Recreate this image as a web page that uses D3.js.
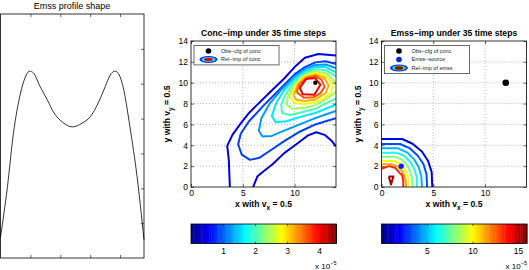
<!DOCTYPE html>
<html>
<head>
<meta charset="utf-8">
<script src="https://cdn.jsdelivr.net/npm/d3@7"></script>
<style>
  body { margin: 0; background: #fff; }
  text { font-family: "Liberation Sans", Arial, sans-serif; }
</style>
</head>
<body>
<div id="chart"></div>
<script>
// Emss profile shape (curve)
const profileX = [0, 0.23, 0.43, 0.67, 0.83, 0.97, 1.1, 1.33, 1.57, 1.77, 2.07, 2.4, 2.73, 3.0, 3.27, 3.5, 3.67, 3.83, 3.93, 4.1, 4.33, 4.57, 4.8];
const profileY = [0.6, 2.03, 3.56, 4.73, 5.19, 5.36, 5.31, 4.91, 4.53, 4.19, 3.9, 3.76, 3.87, 4.05, 4.45, 4.91, 5.25, 5.36, 5.31, 4.91, 3.76, 2.32, 0.52];

// Conc-imp contours, levels in units of 1e-5
const concMax = 4.54;
const concLevels = [0.45, 0.45, 0.85, 1.25, 1.6, 2.0, 2.4, 2.8, 3.2, 3.6, 4.05];
const concLines = [
  [[3.75,0],[3.65,2.6],[3.5,3.95],[4.0,5.0],[4.8,6.1],[5.6,7.1],[6.4,7.9],[7.7,9.15],[9.0,10.4],[10.0,11.5],[11.0,12.4],[12.3,12.75],[14,12.6]],
  [[6.0,0],[6.4,1.0],[6.8,1.35],[7.9,2.2],[9.0,3.25],[10.3,4.2],[11.3,4.95],[12.1,5.25],[12.9,5.0],[13.6,4.4],[14,3.9]],
  [[14,11.8],[13,12.05],[12,11.95],[11,11.5],[10,10.8],[8.5,9.3],[7,7.8],[5.6,6.3],[4.8,5.1],[4.55,4.1],[4.9,3.1],[5.7,2.6],[6.6,2.8],[7.8,3.6],[9,4.4],[10.5,5.3],[12,6.0],[13,6.3],[14,6.6]],
  [[14,11.4],[13,11.75],[12,11.7],[11,11.3],[10,10.6],[8.8,9.4],[7.6,8.0],[6.8,6.6],[6.55,5.4],[6.9,4.85],[7.8,4.9],[9,5.4],[10.5,6.0],[12,6.6],[13,6.95],[14,7.3]],
  [[14,11.0],[13,11.5],[12,11.5],[11,11.1],[10,10.35],[9,9.3],[8.2,8.0],[7.8,6.8],[8.2,6.2],[9.2,6.3],[10.5,6.7],[12,7.1],[13,7.5],[14,7.9]],
  [[14,10.6],[13,11.2],[12,11.3],[11,10.9],[10,10.1],[9.2,9.0],[8.7,7.9],[8.8,7.1],[9.6,6.9],[10.8,7.2],[12,7.5],[13,8.0],[14,8.5]],
  [[14,9.9],[13.2,10.85],[12,11.1],[11,10.75],[10.1,9.9],[9.4,8.8],[9.2,7.9],[9.8,7.5],[11,7.6],[12,7.85],[13,8.4],[14,9.1]],
  [[9.6,8.6],[10.0,9.7],[10.8,10.6],[12,10.95],[13.1,10.6],[13.7,9.8],[13.5,9.0],[12.8,8.5],[12,8.15],[11,7.95],[10.0,8.05],[9.6,8.6]],
  [[9.9,8.8],[10.3,9.8],[11,10.5],[12,10.8],[12.9,10.45],[13.3,9.7],[13.0,9.0],[12,8.4],[11,8.25],[10.2,8.35],[9.9,8.8]],
  [[10.2,9.1],[10.5,9.9],[11.2,10.45],[12,10.65],[12.6,10.3],[12.9,9.6],[12.5,9.0],[11.8,8.6],[10.9,8.55],[10.2,9.1]],
  [[10.5,9.5],[11.1,10.35],[12,10.45],[12.5,9.8],[11.9,8.85],[10.8,8.9],[10.5,9.5]]
];
const concTicks = [1, 2, 3, 4];

// Emss-imp contours, levels in units of 1e-5
const emssMax = 16;
const emssLevels = [1.6, 3.2, 4.8, 6.4, 8.0, 9.8, 11.5, 13.4, 15.4];
const emssLines = [
  [[0,4.6],[2.0,4.6],[3.0,4.15],[3.9,3.4],[4.5,2.5],[4.85,1.4],[4.9,0]],
  [[0,4.12],[1.8,4.12],[2.75,3.7],[3.5,3.0],[4.05,2.2],[4.35,1.2],[4.4,0]],
  [[0,3.71],[1.6,3.71],[2.5,3.3],[3.15,2.65],[3.6,1.9],[3.85,1.0],[3.9,0]],
  [[0,3.29],[1.45,3.29],[2.25,2.95],[2.8,2.35],[3.2,1.65],[3.4,0.9],[3.42,0]],
  [[0,2.91],[1.3,2.91],[2.0,2.6],[2.5,2.05],[2.8,1.4],[2.97,0.75],[3.0,0]],
  [[0,2.49],[1.15,2.49],[1.8,2.25],[2.2,1.75],[2.5,1.15],[2.62,0.6],[2.65,0]],
  [[0,2.17],[1.0,2.17],[1.6,1.95],[2.0,1.5],[2.25,1.0],[2.35,0.5],[2.37,0]],
  [[0,1.75],[0.7,2.0],[1.3,1.85],[1.7,1.4],[2.0,1.1],[2.1,0.6],[2.1,0]],
  [[0.7,1.0],[1.15,1.0],[0.92,0.25],[0.7,1.0]]
];
const emssTicks = [5, 10, 15];

const obsPoint = [12, 10];
const sourcePoint = [1.9, 2];
const xTicks = [0, 5, 10];
const yTicks = [0, 2, 4, 6, 8, 10, 12, 14];

const width = 529;
const height = 270;

const svg = d3.select("#chart")
    .append("svg")
    .attr("width", width)
    .attr("height", height);

// matlab jet colormap
function jet(t) {
  const c = v => Math.round(255 * Math.max(0, Math.min(1, v)));
  return `rgb(${c(1.5 - Math.abs(4 * t - 3))},${c(1.5 - Math.abs(4 * t - 2))},${c(1.5 - Math.abs(4 * t - 1))})`;
}

function styleAxis(a) {
  a.select(".domain").remove();
  a.attr("font-size", 8.5).attr("font-family", "Liberation Sans, Arial, sans-serif");
  a.selectAll("line").attr("stroke", "#000").attr("stroke-width", 0.6);
  a.selectAll("text").attr("fill", "#000");
}

// ---------- left panel: profile ----------
const px = d3.scaleLinear().domain([0, 4.8]).range([0.5, 144]);
const py = d3.scaleLinear().domain([0, 7]).range([258, 14]);

svg.append("g").attr("transform", "translate(0,258)")
    .call(d3.axisBottom(px).tickValues([1, 2, 3, 4]).tickSize(-3).tickFormat(""))
    .call(styleAxis);
svg.append("g").attr("transform", "translate(0,14)")
    .call(d3.axisTop(px).tickValues([1, 2, 3, 4]).tickSize(-3).tickFormat(""))
    .call(styleAxis);
svg.append("g").attr("transform", "translate(144,0)")
    .call(d3.axisRight(py).tickValues([1, 2, 3, 4, 5, 6]).tickSize(-3).tickFormat(""))
    .call(styleAxis);

svg.append("path")
    .datum(d3.zip(profileX, profileY))
    .attr("fill", "none")
    .attr("stroke", "#000")
    .attr("stroke-width", 0.8)
    .attr("d", d3.line().x(d => px(d[0])).y(d => py(d[1])).curve(d3.curveMonotoneX));

svg.append("rect")
    .attr("x", 0.5).attr("y", 14).attr("width", 143.5).attr("height", 244)
    .attr("fill", "none").attr("stroke", "#000").attr("stroke-width", 0.8);

svg.append("text")
    .attr("x", 72).attr("y", 9)
    .attr("text-anchor", "middle")
    .attr("font-size", 9)
    .text("Emss profile shape");

// ---------- contour panels ----------
function contourPanel(left, id, title, levels, lines, cmax, cbTicks, legendRows) {
  const right = left + 145;
  const x = d3.scaleLinear().domain([0, 14]).range([left, right]);
  const y = d3.scaleLinear().domain([0, 14]).range([187, 41]);
  const g = svg.append("g");

  g.append("clipPath").attr("id", id)
    .append("rect").attr("x", left).attr("y", 41).attr("width", 145).attr("height", 146);

  // grid
  g.selectAll("line.gx").data([5, 10]).join("line")
      .attr("x1", d => x(d)).attr("x2", d => x(d))
      .attr("y1", y(0)).attr("y2", y(14))
      .attr("stroke", "#999").attr("stroke-width", 0.7).attr("stroke-dasharray", "1,2");
  g.selectAll("line.gy").data([2, 4, 6, 8, 10, 12]).join("line")
      .attr("x1", x(0)).attr("x2", x(14))
      .attr("y1", d => y(d)).attr("y2", d => y(d))
      .attr("stroke", "#999").attr("stroke-width", 0.7).attr("stroke-dasharray", "1,2");

  // contours
  const line = d3.line().x(d => x(d[0])).y(d => y(d[1]));
  g.append("g").attr("clip-path", `url(#${id})`)
    .selectAll("path").data(lines).join("path")
      .attr("fill", "none")
      .attr("stroke", (d, i) => jet(levels[i] / cmax))
      .attr("stroke-width", 2)
      .attr("stroke-linejoin", "round")
      .attr("d", line);

  // axes
  g.append("g").attr("transform", "translate(0,187)")
      .call(d3.axisBottom(x).tickValues(xTicks).tickSize(-3).tickPadding(3))
      .call(styleAxis);
  g.append("g").attr("transform", "translate(0,41)")
      .call(d3.axisTop(x).tickValues(xTicks).tickSize(-3).tickFormat(""))
      .call(styleAxis);
  g.append("g").attr("transform", `translate(${left},0)`)
      .call(d3.axisLeft(y).tickValues(yTicks).tickSize(-3).tickPadding(3))
      .call(styleAxis);
  g.append("g").attr("transform", `translate(${right},0)`)
      .call(d3.axisRight(y).tickValues(yTicks).tickSize(-3).tickFormat(""))
      .call(styleAxis);
  g.append("rect")
      .attr("x", left).attr("y", 41).attr("width", 145).attr("height", 146)
      .attr("fill", "none").attr("stroke", "#000").attr("stroke-width", 0.8);

  // title and labels
  g.append("text")
      .attr("x", (left + right) / 2).attr("y", 36)
      .attr("text-anchor", "middle").attr("font-size", 8.6).attr("font-weight", "bold")
      .text(title);
  const xl = g.append("text")
      .attr("x", (left + right) / 2).attr("y", 207)
      .attr("text-anchor", "middle").attr("font-size", 8.6).attr("font-weight", "bold");
  xl.append("tspan").text("x with v");
  xl.append("tspan").attr("dy", 2.5).attr("font-size", 6.5).text("x");
  xl.append("tspan").attr("dy", -2.5).text(" = 0.5");
  const yl = g.append("text")
      .attr("transform", `translate(${left - 21},114) rotate(-90)`)
      .attr("text-anchor", "middle").attr("font-size", 8.6).attr("font-weight", "bold");
  yl.append("tspan").text("y with  v");
  yl.append("tspan").attr("dy", 2.5).attr("font-size", 6.5).text("y");
  yl.append("tspan").attr("dy", -2.5).text(" = 0.5");

  // legend
  const lg = g.append("g");
  const lh = legendRows.length * 8.7 + 2;
  lg.append("rect")
      .attr("x", left + 3).attr("y", 45.5).attr("width", 85).attr("height", lh)
      .attr("fill", "#fff").attr("stroke", "#444").attr("stroke-width", 0.8);
  legendRows.forEach((r, i) => {
    const cy = 51 + i * 8.5;
    const cx = left + 17.5;
    if (r.kind === "dot") {
      lg.append("circle").attr("cx", cx).attr("cy", cy).attr("r", 2.8).attr("fill", r.color);
    } else {
      lg.append("ellipse").attr("cx", cx).attr("cy", cy).attr("rx", 9).attr("ry", 3.4).attr("fill", "#0030ff");
      lg.append("ellipse").attr("cx", cx).attr("cy", cy).attr("rx", 6.8).attr("ry", 2.5).attr("fill", r.ring);
      lg.append("ellipse").attr("cx", cx).attr("cy", cy).attr("rx", 4.2).attr("ry", 1.8).attr("fill", r.core);
    }
    lg.append("text")
        .attr("x", left + 30).attr("y", cy + 1.8)
        .attr("font-size", 5.5).attr("fill", "#222")
        .text(r.label);
  });

  // colorbar
  const cb = d3.scaleLinear().domain([0, cmax]).range([left, left + 145.5]);
  const n = 64;
  g.selectAll("rect.cb").data(d3.range(n)).join("rect")
      .attr("x", i => cb(cmax * i / n))
      .attr("y", 224)
      .attr("width", i => cb(cmax * (i + 1) / n) - cb(cmax * i / n) + 0.4)
      .attr("height", 19.5)
      .attr("fill", i => jet((i + 0.5) / n));
  g.append("g").attr("transform", "translate(0,243.5)")
      .call(d3.axisBottom(cb).tickValues(cbTicks).tickFormat(d3.format("d")).tickSize(-2).tickPadding(4))
      .call(styleAxis);
  g.append("g").attr("transform", "translate(0,224)")
      .call(d3.axisTop(cb).tickValues(cbTicks).tickSize(-2).tickFormat(""))
      .call(styleAxis);
  g.append("rect")
      .attr("x", left).attr("y", 224).attr("width", 145.5).attr("height", 19.5)
      .attr("fill", "none").attr("stroke", "#000").attr("stroke-width", 0.8);
  const ex = g.append("text")
      .attr("x", left + 145.5).attr("y", 269)
      .attr("text-anchor", "end").attr("font-size", 8);
  ex.append("tspan").text("x 10");
  ex.append("tspan").attr("dy", -4).attr("font-size", 5.5).text("−5");

  return { g, x, y };
}

const mid = contourPanel(191, "clipConc", "Conc−imp under 35 time steps", concLevels, concLines, concMax, concTicks, [
  { kind: "dot", color: "#000", label: "Obs−cfg of conc" },
  { kind: "ell", ring: "#30e0d0", core: "#e00000", label: "Rel−imp of conc" }
]);
mid.g.append("circle")
    .attr("cx", mid.x(obsPoint[0])).attr("cy", mid.y(obsPoint[1]))
    .attr("r", 2.2).attr("fill", "#000");

const rgt = contourPanel(381.5, "clipEmss", "Emss−imp under 35 time steps", emssLevels, emssLines, emssMax, emssTicks, [
  { kind: "dot", color: "#000", label: "Obs−cfg of conc" },
  { kind: "dot", color: "#0022ee", label: "Emss−source" },
  { kind: "ell", ring: "#50e060", core: "#8b0000", label: "Rel−imp of emss" }
]);
rgt.g.append("circle")
    .attr("cx", rgt.x(obsPoint[0])).attr("cy", rgt.y(obsPoint[1]))
    .attr("r", 3.3).attr("fill", "#000");
rgt.g.append("circle")
    .attr("cx", rgt.x(sourcePoint[0])).attr("cy", rgt.y(sourcePoint[1]))
    .attr("r", 2.6).attr("fill", "#0022ee");
</script>
</body>
</html>
